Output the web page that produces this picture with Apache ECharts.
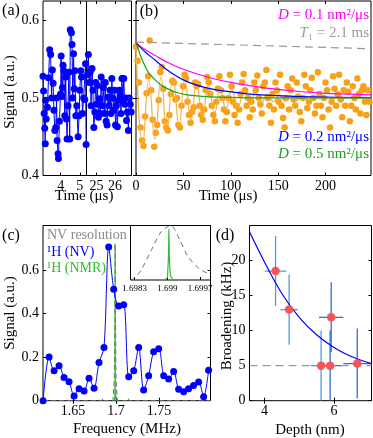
<!DOCTYPE html>
<html><head><meta charset="utf-8">
<script src="https://cdn.jsdelivr.net/npm/echarts@6/dist/echarts.min.js"></script>
<style>html,body{margin:0;padding:0;background:#fff}#c{width:373px;height:438px}</style>
</head><body><div id="c"></div>
<script>
// ---------- Panel (a): early and late time windows ----------
const tA1 = [3.07,3.10,3.13,3.16,3.19,3.21,3.24,3.30,3.36,3.42,3.47,3.52,3.56,3.60,3.64,3.69,3.74,3.78,3.81,3.86,3.88,3.93,3.99,4.02,4.06,4.09,4.12,4.16,4.21,4.26,4.30,4.33,4.38,4.43,4.47,4.50,4.56,4.59,4.63,4.67,4.71,4.74,4.79,4.84,4.91,4.96,5.00,5.05,5.09,5.14,5.20,5.26,5.30,5.33];
const vA1 = [0.528,0.509,0.480,0.461,0.441,0.497,0.473,0.488,0.526,0.562,0.556,0.500,0.536,0.519,0.484,0.458,0.462,0.500,0.445,0.428,0.422,0.470,0.505,0.554,0.502,0.513,0.542,0.535,0.477,0.527,0.473,0.447,0.490,0.533,0.447,0.588,0.584,0.569,0.500,0.557,0.512,0.535,0.477,0.490,0.450,0.477,0.510,0.535,0.527,0.480,0.500,0.498,0.544,0.440];
const tA2 = [24.50,24.55,24.60,24.65,24.70,24.75,24.80,24.85,24.90,24.95,25.00,25.05,25.10,25.15,25.20,25.25,25.30,25.37,25.42,25.47,25.52,25.57,25.62,25.68,25.73,25.78,25.83,25.88,25.93,25.98,26.03,26.08,26.13,26.18,26.23,26.28,26.33,26.38,26.43,26.48,26.53,26.58,26.63,26.68,26.73,26.78,26.83,26.88,26.93];
const vA2 = [0.530,0.556,0.520,0.533,0.490,0.538,0.510,0.462,0.482,0.520,0.492,0.516,0.475,0.499,0.480,0.527,0.490,0.513,0.480,0.520,0.470,0.465,0.501,0.490,0.510,0.480,0.525,0.500,0.484,0.510,0.465,0.490,0.463,0.497,0.510,0.503,0.480,0.525,0.495,0.525,0.492,0.500,0.471,0.482,0.458,0.500,0.492,0.482,0.519];

// ---------- Panel (b): decay ----------
const tB = [0,1.6,3.2,4.8,6.4,8.0,9.6,11.2,12.8,14.4,16.0,17.6,19.2,20.8,22.4,24.0,25.6,27.2,28.8,30.4,32.0,33.6,35.2,36.8,38.4,40.0,41.6,43.2,44.8,46.4,48.0,49.6,51.2,52.8,54.4,56.0,57.6,59.2,60.8,62.4,64.0,65.6,67.2,68.8,70.4,72.0,73.6,75.2,76.8,
 78.4,80.0,81.6,83.2,84.8,86.4,88.0,89.6,91.2,92.8,94.4,96.0,97.6,99.2,100.8,102.4,104.0,105.6,107.2,108.8,110.4,112.0,113.6,115.2,116.8,118.4,120.0,121.6,123.2,124.8,126.4,128.0,129.6,131.2,132.8,134.4,136.0,137.6,139.2,140.8,142.4,144.0,145.6,147.2,148.8,150.4,152.0,153.6,155.2,156.8,158.4,160.0,161.6,163.2,164.8,166.4,168.0,169.6,171.2,172.8,174.4,176.0,177.6,179.2,180.8,182.4,184.0,185.6,187.2,188.8,190.4,192.0,193.6,195.2,196.8,198.4,200.0,201.6,203.2,204.8,206.4,208.0,209.6,211.2,212.8,214.4,216.0,217.6,219.2,220.8,222.4,224.0,225.6,227.2,228.8,230.4,232.0,233.6,235.2,236.8,238.4,240.0,241.6,243.2,244.8,246.4];
const vB = [0.566,0.548,0.520,0.462,0.445,0.438,0.476,0.506,0.528,0.574,0.510,0.472,0.437,0.455,0.465,0.497,0.533,0.540,0.512,0.470,0.462,0.458,0.478,0.505,0.522,0.520,0.498,0.500,0.465,0.462,0.490,0.515,0.530,0.525,0.495,0.478,0.468,0.482,0.488,0.520,0.515,0.518,0.490,0.478,0.472,0.485,0.510,0.527,0.520,
 0.505,0.490,0.478,0.470,0.495,0.512,0.528,0.510,0.500,0.485,0.470,0.482,0.500,0.530,0.515,0.495,0.478,0.490,0.468,0.485,0.505,0.520,0.531,0.510,0.490,0.500,0.475,0.495,0.485,0.520,0.510,0.529,0.500,0.492,0.480,0.515,0.520,0.536,0.500,0.490,0.468,0.505,0.485,0.520,0.510,0.495,0.530,0.490,0.474,0.462,0.500,0.515,0.485,0.510,0.525,0.498,0.490,0.520,0.502,0.482,0.470,0.500,0.530,0.515,0.487,0.495,0.510,0.526,0.500,0.480,0.490,0.533,0.505,0.490,0.475,0.500,0.520,0.510,0.485,0.462,0.495,0.528,0.512,0.490,0.505,0.530,0.498,0.475,0.510,0.490,0.520,0.508,0.470,0.490,0.515,0.500,0.485,0.525,0.505,0.480,0.510,0.515,0.495,0.478,0.510,0.495];
const oscT = [0,7,13.5,20,26.5,32.5,39,45.5,51.5,58,64,70,76.5,83,89,95,101,107.5,114,120,126,132,138.5,145,151,157,163,170,176,182,188,195,201,207,214,220,248];
const oscV = [0.571,0.440,0.523,0.447,0.527,0.457,0.527,0.466,0.523,0.471,0.520,0.476,0.516,0.481,0.513,0.485,0.511,0.488,0.509,0.491,0.507,0.493,0.505,0.495,0.504,0.496,0.503,0.497,0.502,0.498,0.501,0.499,0.5005,0.4995,0.500,0.500,0.500];
const magT = [0,10,20,33,50,75,100,125,150,175,200,225,248];
const magV = [0.571,0.562,0.555,0.546,0.537,0.527,0.520,0.515,0.511,0.508,0.506,0.505,0.504];
const bluT = [0,10,20,33,54,78,113,149,200,248];
const bluV = [0.571,0.559,0.549,0.536,0.521,0.512,0.506,0.503,0.501,0.5005];
const grnT = [0,4,8.4,13,19,26,33,43,54,70,90,130,248];
const grnV = [0.571,0.557,0.544,0.533,0.525,0.517,0.512,0.507,0.504,0.502,0.501,0.500,0.500];
const t1T = [0,248];
const t1V = [0.572,0.5635];

// ---------- Panel (c): spectrum ----------
const cF = [1.6151,1.6221,1.6279,1.6337,1.6395,1.6453,1.6512,1.6570,1.6628,1.6686,1.6744,1.6802,1.6860,1.6915,1.6973,1.7031,1.7090,1.7148,1.7206,1.7264,1.7322,1.7380,1.7438,1.7497,1.7555,1.7613,1.7671,1.7729,1.7787,1.7845,1.7903,1.7962,1.8020,1.8078];
const cV = [0.0,0.200,0.138,0.160,0.106,0.087,0.022,0.055,0.045,0.103,0.057,0.175,0.244,0.705,0.512,0.435,0.440,0.110,0.137,0.244,0.049,0.115,0.225,0.238,0.115,0.100,0.134,0.052,0.041,0.055,0.070,0.086,0.018,0.140];
const nvF = [1.615,1.680,1.6835,1.685,1.6865,1.6965,1.698,1.6985,1.699,1.6995,1.700,1.7015,1.7125,1.714,1.7155,1.810];
const nvV = [0,0,0,0.012,0,0,0.10,0.36,0.72,0.36,0.10,0,0,0.012,0,0];
const nmrF = [1.6985,1.6988,1.699,1.6992,1.6998,1.7005];
const nmrV = [0,0.05,0.72,0.05,0.01,0];
// inset
const inNvF = [1.69821,1.69830,1.69844,1.69866,1.69887,1.69907,1.69926,1.69944,1.69969,1.69992];
const inNvV = [0.0,0.04,0.185,0.556,0.89,1.0,0.74,0.43,0.2,0.1];
const inNmrF = [1.69895,1.69900,1.69902,1.69903,1.69904,1.69906,1.69912];
const inNmrV = [0,0.05,0.4,0.93,0.4,0.08,0];

// ---------- Panel (d): broadening vs depth ----------
const dDepth = [4.32,4.71,5.63,5.89,5.92,6.67];
const dBroad = [18.5,13.0,5.0,5.0,11.9,5.3];
const dDepthErr = [0.31,0.25,0.30,0.33,0.35,0.40];
const dBroadErr = [5,5,5,5,5,5];
const fitD = [3.57,4.0,4.5,5.0,5.5,6.0,6.5,7.08];
const fitV = [24.1,19.8,15.3,11.9,9.4,7.6,6.3,5.3];
const floorD = [3.57,7.08];
const floorV = [5,5];

// ---------- ticks ----------
const tickA1 = [4,5], tickA2 = [25,26], tickB = [0,50,100,150,200], tickAY = [0.4,0.5,0.6];
const tickCX = [1.65,1.7,1.75], tickCY = [0,0.2,0.4,0.6], tickIn = [1.6983,1.699,1.6997];
const tickDX = [4,6], tickDY = [0,5,10,15,20];

const FONT = '"Liberation Serif","Times New Roman",serif';
const BLUE = '#0000ff', ORANGE = '#f8a016', ORANGE_L = '#f7b048', MAG = '#ff00ff', GREEN = '#1fa01f', GRAY = '#9a9a9a';
const zip = (a, b) => a.map((v, i) => [v, b[i]]);

function ax(gi, min, max, ticks, labels, pos, fs) {
  return {
    type: 'value', gridIndex: gi, min: min, max: max, position: pos,
    axisLine: { show: false }, splitLine: { show: false },
    axisTick: { show: ticks.length > 0, inside: true, length: 3, customValues: ticks, lineStyle: { color: '#000', width: 1 } },
    axisLabel: { show: labels, customValues: ticks, fontFamily: FONT, fontSize: fs || 14, color: '#000', margin: 4 }
  };
}
const gridBox = (l, t, w, h, bg) => ({ left: l, top: t, width: w, height: h, show: true, borderColor: '#000', borderWidth: 1, backgroundColor: bg || 'transparent', containLabel: false });

const chart = echarts.init(document.getElementById('c'), null, { renderer: 'canvas' });

function txt(x, y, text, opt) {
  opt = opt || {};
  return {
    type: 'text', x: x, y: y, rotation: opt.rot || 0, z: 100,
    style: Object.assign({ text: text, fontFamily: FONT, fontSize: opt.fs || 15, fill: opt.fill || '#000',
      textAlign: opt.align || 'center', textVerticalAlign: 'middle' }, opt.rich ? { rich: opt.rich } : {})
  };
}
function dLabel(fill) {
  return { rich: { i: { fontStyle: 'italic', fontFamily: FONT, fontSize: 15, fill: fill } }, fill: fill, align: 'right' };
}

const option = {
  animation: false,
  backgroundColor: '#fff',
  grid: [
    gridBox(43, 1, 43.5, 174.5),
    gridBox(86.5, 1, 45, 174.5),
    gridBox(136, 1, 235, 174.5),
    gridBox(43, 225.5, 167.5, 175.2),
    gridBox(130.5, 225.5, 80, 54.5, '#fff'),
    gridBox(249.5, 225.5, 122, 175.2)
  ],
  xAxis: [
    ax(0, 3.07, 5.35, tickA1, true, 'bottom'),
    ax(0, 3.07, 5.35, tickA1, false, 'top'),
    ax(1, 24.45, 26.9, tickA2, true, 'bottom'),
    ax(1, 24.45, 26.9, tickA2, false, 'top'),
    ax(2, 0, 248, tickB, true, 'bottom'),
    ax(2, 0, 248, tickB, false, 'top'),
    ax(3, 1.615, 1.81, tickCX, true, 'bottom'),
    ax(3, 1.615, 1.81, tickCX, false, 'top'),
    ax(4, 1.69821, 1.69992, tickIn, true, 'bottom', 9),
    ax(5, 3.57, 7.08, tickDX, true, 'bottom'),
    ax(5, 3.57, 7.08, tickDX, false, 'top')
  ],
  yAxis: [
    ax(0, 0.4, 0.625, tickAY, true, 'left'),
    ax(1, 0.4, 0.625, tickAY, false, 'right'),
    ax(2, 0.4, 0.625, tickAY, false, 'left'),
    ax(2, 0.4, 0.625, tickAY, false, 'right'),
    ax(3, 0, 0.804, tickCY, true, 'left'),
    ax(3, 0, 0.804, tickCY, false, 'right'),
    ax(4, 0, 1.0, [], false, 'left'),
    ax(5, 0, 25, tickDY, true, 'left'),
    ax(5, 0, 25, tickDY, false, 'right')
  ],
  series: [
    // (a)
    { type: 'line', xAxisIndex: 0, yAxisIndex: 0, data: zip(tA1, vA1), symbol: 'circle', symbolSize: 7, itemStyle: { color: BLUE, opacity: 1 }, lineStyle: { color: BLUE, width: 1 }, clip: true },
    { type: 'line', xAxisIndex: 2, yAxisIndex: 1, data: zip(tA2, vA2), symbol: 'circle', symbolSize: 7, itemStyle: { color: BLUE, opacity: 1 }, lineStyle: { color: BLUE, width: 1 }, clip: true },
    // (b)
    { type: 'line', xAxisIndex: 4, yAxisIndex: 2, data: zip(t1T, t1V), symbol: 'none', lineStyle: { color: GRAY, width: 1.2, type: [8, 5] } },
    { type: 'scatter', xAxisIndex: 4, yAxisIndex: 2, data: zip(tB, vB), symbol: 'circle', symbolSize: 6.5, itemStyle: { color: ORANGE, opacity: 1 } },
    { type: 'line', xAxisIndex: 4, yAxisIndex: 2, data: zip(oscT, oscV), symbol: 'none', smooth: 0.5, lineStyle: { color: ORANGE_L, width: 1.2 } },
    { type: 'line', xAxisIndex: 4, yAxisIndex: 2, data: zip(magT, magV), symbol: 'none', smooth: 0.4, lineStyle: { color: MAG, width: 1.2 } },
    { type: 'line', xAxisIndex: 4, yAxisIndex: 2, data: zip(bluT, bluV), symbol: 'none', smooth: 0.4, lineStyle: { color: BLUE, width: 1.2 } },
    { type: 'line', xAxisIndex: 4, yAxisIndex: 2, data: zip(grnT, grnV), symbol: 'none', smooth: 0.4, lineStyle: { color: GREEN, width: 1.2 } },
    // (c)
    { type: 'line', xAxisIndex: 6, yAxisIndex: 4, data: zip(nvF, nvV), symbol: 'none', lineStyle: { color: '#707070', width: 1, type: [5, 3] } },
    { type: 'line', xAxisIndex: 6, yAxisIndex: 4, data: zip(nmrF, nmrV), symbol: 'none', lineStyle: { color: '#33bb33', width: 1.2 } },
    { type: 'line', xAxisIndex: 6, yAxisIndex: 4, data: zip(cF, cV), symbol: 'circle', symbolSize: 7, smooth: 0.3, itemStyle: { color: BLUE, opacity: 1 }, lineStyle: { color: BLUE, width: 1 } },
    // inset
    { type: 'line', xAxisIndex: 8, yAxisIndex: 6, data: zip(inNvF, inNvV), symbol: 'none', smooth: 0.3, lineStyle: { color: '#707070', width: 1, type: [5, 4] } },
    { type: 'line', xAxisIndex: 8, yAxisIndex: 6, data: zip(inNmrF, inNmrV), symbol: 'none', lineStyle: { color: '#33bb33', width: 1.2 } },
    // (d)
    { type: 'line', xAxisIndex: 9, yAxisIndex: 7, data: zip(floorD, floorV), symbol: 'none', lineStyle: { color: GRAY, width: 1.3, type: [8, 5] } },
    { type: 'line', xAxisIndex: 9, yAxisIndex: 7, data: zip(fitD, fitV), symbol: 'none', smooth: 0.4, lineStyle: { color: BLUE, width: 1.2 } },
    { type: 'custom', xAxisIndex: 9, yAxisIndex: 7, clip: true,
      data: dDepth.map((d, i) => [d, dBroad[i], dDepthErr[i], dBroadErr[i]]),
      renderItem: function (params, api) {
        const x = api.value(0), y = api.value(1), ex = api.value(2), ey = api.value(3);
        const col = params.dataIndex < 3 ? '#4d9de0' : '#2f70c8';
        const a = api.coord([x - ex, y]), b = api.coord([x + ex, y]);
        const c = api.coord([x, y - ey]), d = api.coord([x, y + ey]);
        return { type: 'group', children: [
          { type: 'line', shape: { x1: a[0], y1: a[1], x2: b[0], y2: b[1] }, style: { stroke: col, lineWidth: 1.3 } },
          { type: 'line', shape: { x1: c[0], y1: c[1], x2: d[0], y2: d[1] }, style: { stroke: col, lineWidth: 1.3 } }
        ] };
      } },
    { type: 'scatter', xAxisIndex: 9, yAxisIndex: 7, data: zip(dDepth, dBroad), symbol: 'circle', symbolSize: 8.5, itemStyle: { color: '#f55555', opacity: 1 }, z: 5 }
  ],
  graphic: [
    txt(11, 11, '(a)', { fs: 16 }),
    txt(149, 12, '(b)', { fs: 16 }),
    txt(11, 236, '(c)', { fs: 16 }),
    txt(225, 236, '(d)', { fs: 16 }),
    txt(10, 92, 'Signal (a.u.)', { rot: Math.PI / 2 }),
    txt(84, 196, 'Time (μs)'),
    txt(228, 196, 'Time (μs)'),
    txt(10, 313, 'Signal (a.u.)', { rot: Math.PI / 2 }),
    txt(127, 429, 'Frequency (MHz)'),
    txt(227, 316, 'Broadening (kHz)', { rot: Math.PI / 2 }),
    txt(310, 430, 'Depth (nm)'),
    txt(369, 15, '{i|D} = 0.1 nm²/μs', dLabel(MAG)),
    txt(369, 33, '{i|T}₁ = 2.1 ms', dLabel(GRAY)),
    txt(369, 137, '{i|D} = 0.2 nm²/μs', dLabel(BLUE)),
    txt(369, 154, '{i|D} = 0.5 nm²/μs', dLabel(GREEN)),
    txt(47, 235, 'NV resolution', { fs: 14, fill: '#8a8a8a', align: 'left' }),
    txt(47, 252, '¹H (NV)', { fs: 14, fill: BLUE, align: 'left' }),
    txt(47, 268, '¹H (NMR)', { fs: 14, fill: '#33bb33', align: 'left' })
  ]
};
chart.setOption(option);
</script></body></html>
